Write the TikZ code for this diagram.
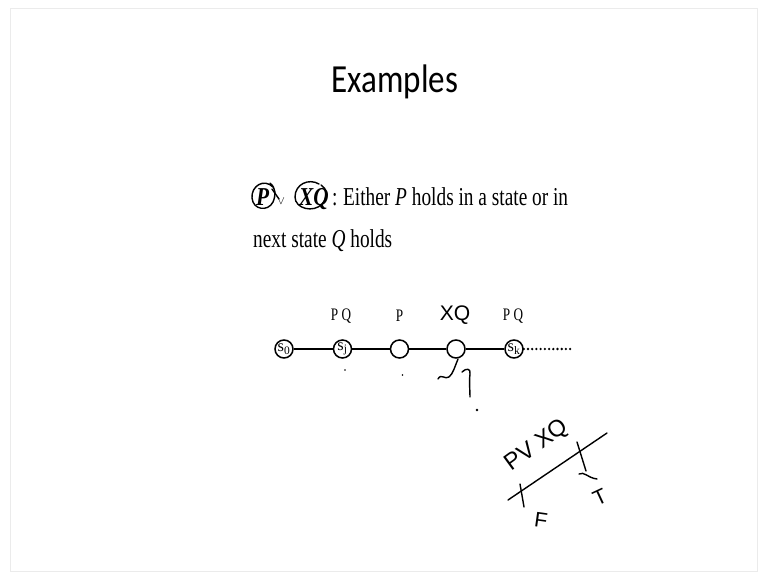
\documentclass[tikz,border=0pt]{standalone}
\usepackage{fontspec}
\setmainfont{Liberation Serif}
\newfontfamily\titlefont{Carlito}
\newfontfamily\handfont{Liberation Sans}
\usetikzlibrary{positioning}

\begin{document}
\begin{tikzpicture}[x=0.03cm, y=-0.03cm,
    state/.style={circle, draw, line width=1.3pt, minimum size=0.54cm, inner sep=0pt,
                  font=\fontsize{14}{16}\selectfont},
    txt/.style={font=\fontsize{22}{26}\selectfont, xscale=0.75, anchor=base west, inner sep=0pt},
    prop/.style={font=\fontsize{15}{18}\selectfont, xscale=0.75, inner sep=0pt},
    hand/.style={line width=1.2pt, line cap=round, line join=round},
    handtxt/.style={font=\handfont\fontsize{18}{20}\selectfont, inner sep=0pt},
]
    \useasboundingbox (0,0) rectangle (767,579);
    \draw[black!8, line width=0.5pt] (10,8) rectangle (757,571);

    % === title ===
    \node[font=\titlefont\fontsize{34}{40}\selectfont, xscale=0.83, anchor=base] (title) at (395,92) {Examples};

    % === definition ===
    \node[txt, xscale=1.1] (defp) at (256,205) {\textbf{\textit{P}}};
    \node[font=\fontsize{10}{12}\selectfont, anchor=base, inner sep=0pt] (vee) at (281,204) {$\vee$};
    \node[txt, xscale=1.1] (defxq) at (299,205) {\textbf{\textit{XQ}}};
    \node[txt] (colon) at (332,205) {:};
    \node[txt] (def1) at (343,205) {Either \textit{P} holds in a state or in};
    \node[txt] (def2) at (253,247) {next state \textit{Q} holds};

    % hand circles round P and XQ
    \draw[hand] (273,187) .. controls (264,178) and (251,186) .. (252,198)
                .. controls (253,210) and (268,212) .. (273,202)
                .. controls (276,195) and (276,188) .. (270,183);
    \draw[hand] (272,189) -- (279,199);
    \draw[hand] (319,184) .. controls (309,178) and (295,184) .. (295,197)
                .. controls (295,209) and (314,213) .. (322,204)
                .. controls (328,197) and (327,188) .. (321,185);

    % === path of states ===
    \node[state] (s0) at (284,349) {s\textsubscript{0}};
    \node[state] (sj) at (342.5,349) {s\textsubscript{j}};
    \node[state] (s2) at (399.5,349) {};
    \node[state] (s3) at (456,349) {};
    \node[state] (sk) at (514,349) {s\textsubscript{k}};
    \coordinate (dots) at (574,349);

    \draw[line width=1.2pt] (s0) -- (sj) -- (s2) -- (s3) -- (sk);
    \draw[line width=2.2pt, line cap=round, dash pattern=on 0pt off 3.6pt] (sk) -- (dots);

    % labels above the states
    \node[prop] (lj) at (341,316) {P Q};
    \node[prop] (l2) at (399.5,316) {P};
    \node[handtxt] (l3) at (455,315) {XQ};
    \node[prop] (lk) at (513,316) {P Q};

    % small marks below
    \fill (345,370) circle (0.9);
    \fill (402.5,375) circle (0.9);
    \draw[hand] (438,379) .. controls (441,373) and (445,380) .. (449,377)
                .. controls (453,374) and (455,366) .. (458,359);
    \draw[hand] (462,372) .. controls (466,368) and (471,368) .. (470,374)
                .. controls (469,382) and (470,390) .. (470,397);
    \fill (477,410) circle (1.4);

    % === sketch: P v XQ ===
    \coordinate (ta) at (508,500);
    \coordinate (tb) at (607,433);
    \draw[hand] (ta) -- (tb);
    \draw[hand] (520,484) -- (524,507);
    \draw[hand] (577,442) -- (586,471);
    \draw[hand] (579,474) .. controls (584,471) and (588,478) .. (597,479);
    \node[handtxt, font=\handfont\fontsize{20}{22}\selectfont, rotate=36] (pvxq) at (537,446) {PV XQ};
    \node[handtxt, rotate=-8] (fval) at (541,520) {F};
    \node[handtxt, rotate=25] (tval) at (600,497) {T};
\end{tikzpicture}
\end{document}
